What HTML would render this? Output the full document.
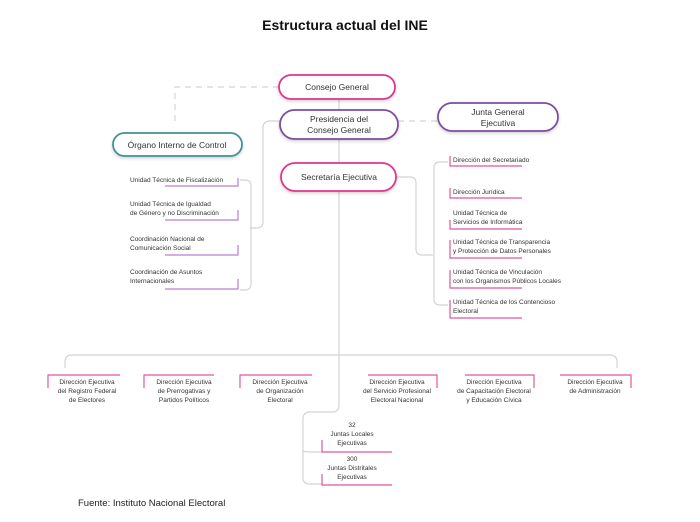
<!DOCTYPE html>
<html><head><meta charset="utf-8"><style>
body{margin:0;background:#fff;}
svg{display:block;font-family:"Liberation Sans",sans-serif;}
</style></head><body>
<svg width="700" height="522" viewBox="0 0 700 522" xmlns="http://www.w3.org/2000/svg">
<defs><filter id="sh" x="-10%" y="-30%" width="120%" height="170%"><feDropShadow dx="0" dy="1.5" stdDeviation="1.5" flood-color="#000" flood-opacity="0.18"/></filter></defs>
<text x="345" y="30" text-anchor="middle" font-size="14" font-weight="bold" fill="#111">Estructura actual del INE</text>
<g fill="none" stroke="#d4d4d4" stroke-width="1.2">
<path d="M279 87 H175 V122" stroke-dasharray="6,5"/>
<path d="M398 121 H438" stroke-dasharray="6,5"/>
<path d="M339 98 V110 M339 139 V163 M339 191 V405 Q339 412 332 412 H310 Q303 412 303 419 V478 Q303 484 310 484 H322 M303 450 Q303 452 310 452 H322"/>
<path d="M65 368 V362 Q65 355 72 355 H610 Q617 355 617 362 V368"/>
<path d="M280 121 H270 Q263 121 263 128 V222 Q263 228 256 228 H250"/>
<path d="M240 180 H245 Q251 180 251 186 V284 Q251 290 245 290 H240"/>
<path d="M396 177 H410 Q416 177 416 183 V249 Q416 255 422 255 H433"/>
<path d="M448 162 H440 Q434 162 434 168 V299 Q434 305 440 305 H448"/>
</g>
<g filter="url(#sh)" fill="#fff" stroke-width="1.8">
<rect x="279" y="75" width="116" height="24" rx="12" stroke="#e0358f"/>
<rect x="280" y="110" width="118" height="29" rx="14.5" stroke="#7d4d9e"/>
<rect x="438" y="103" width="120" height="28" rx="14" stroke="#7d4d9e"/>
<rect x="113" y="133" width="129" height="23" rx="11.5" stroke="#3f9496"/>
<rect x="281" y="163" width="115" height="28" rx="14" stroke="#e0358f"/>
</g>
<g font-size="8.5" fill="#333" text-anchor="middle">
<text x="337" y="90">Consejo General</text>
<text x="339" y="122">Presidencia del</text><text x="339" y="133">Consejo General</text>
<text x="498" y="115">Junta General</text><text x="498" y="126">Ejecutiva</text>
<text x="177" y="148">Órgano Interno de Control</text>
<text x="339" y="180">Secretaría Ejecutiva</text>
</g>
<g font-size="6.5" fill="#333">
<text x="130" y="182">Unidad Técnica de Fiscalización</text>
<text x="130" y="206">Unidad Técnica de Igualdad</text><text x="130" y="215">de Género y no Discriminación</text>
<text x="130" y="241">Coordinación Nacional de</text><text x="130" y="250">Comunicación Social</text>
<text x="130" y="274">Coordinación de Asuntos</text><text x="130" y="283">Internacionales</text>
<text x="453" y="162">Dirección del Secretariado</text>
<text x="453" y="194">Dirección Jurídica</text>
<text x="453" y="215">Unidad Técnica de</text><text x="453" y="224">Servicios de Informática</text>
<text x="453" y="244">Unidad Técnica de Transparencia</text><text x="453" y="253"> y Protección de Datos Personales</text>
<text x="453" y="274">Unidad Técnica de Vinculación</text><text x="453" y="283">con los Organismos Públicos Locales</text>
<text x="453" y="304">Unidad Técnica de los Contencioso</text><text x="453" y="313">Electoral</text>
</g>
<g fill="none" stroke-width="1.2">
<g stroke="#b97fd3">
<path d="M165 186 H238 V178 M165 220 H238 V210 M165 255 H238 V245 M165 289 H238 V279"/>
</g>
<g stroke="#e0569f">
<path d="M450 156 V166 H522 M450 188 V198 H522 M450 220 V229 H522 M450 240 V258 H522 M450 270 V288 H522 M450 300 V318 H522"/>
<path d="M48 388 V375 H120 M144 388 V375 H214 M240 388 V375 H312 M368 375 H437 V388 M465 375 H534 V388 M560 375 H631 V388"/>
<path d="M322 440 V452 H392 M322 474 V485 H392"/>
</g>
</g>
<g font-size="6.5" fill="#333" text-anchor="middle">
<text x="87" y="384">Dirección Ejecutiva</text><text x="87" y="393">del Registro Federal</text><text x="87" y="402">de Electores</text>
<text x="184" y="384">Dirección Ejecutiva</text><text x="184" y="393">de Prerrogativas y</text><text x="184" y="402">Partidos Políticos</text>
<text x="280" y="384">Dirección Ejecutiva</text><text x="280" y="393">de Organización</text><text x="280" y="402">Electoral</text>
<text x="397" y="384">Dirección Ejecutiva</text><text x="397" y="393">del Servicio Profesional</text><text x="397" y="402">Electoral Nacional</text>
<text x="494" y="384">Dirección Ejecutiva</text><text x="494" y="393">de Capacitación Electoral</text><text x="494" y="402">y Educación Cívica</text>
<text x="595" y="384">Dirección Ejecutiva</text><text x="595" y="393">de Administración</text>
<text x="352" y="427">32</text><text x="352" y="436">Juntas Locales</text><text x="352" y="445">Ejecutivas</text>
<text x="352" y="461">300</text><text x="352" y="470">Juntas Distritales</text><text x="352" y="479">Ejecutivas</text>
</g>
<text x="78" y="506" font-size="9.5" fill="#222">Fuente: Instituto Nacional Electoral</text>
</svg>
</body></html>
